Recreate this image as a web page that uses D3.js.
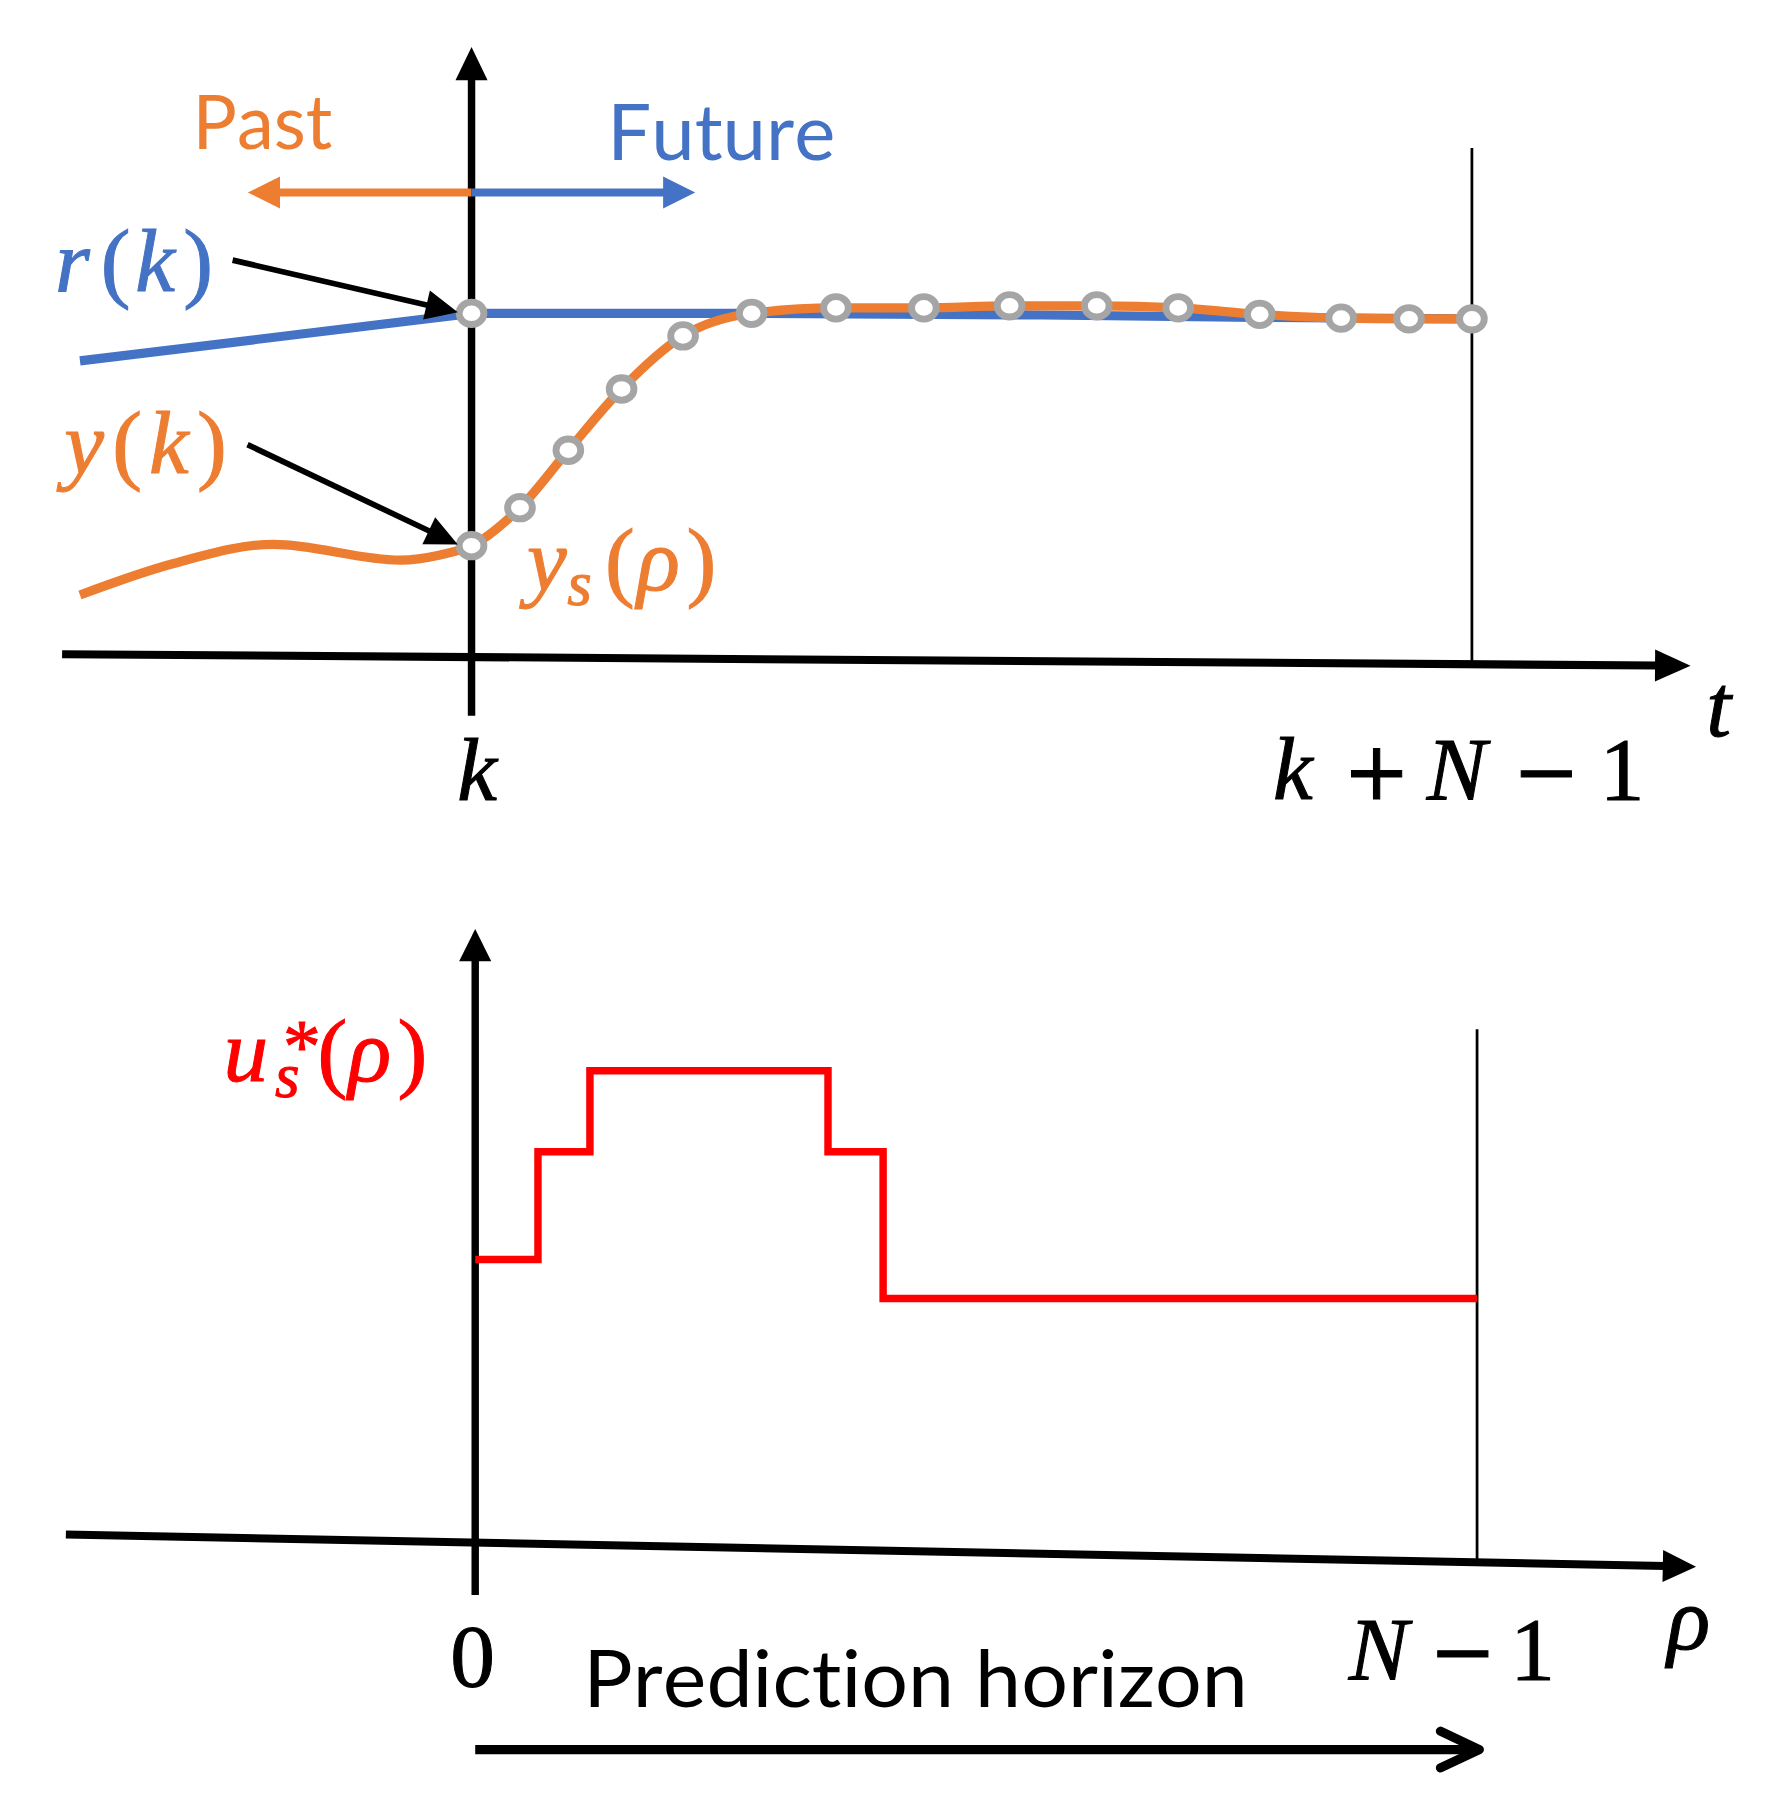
<!DOCTYPE html>
<html>
<head>
<meta charset="utf-8">
<script src="https://cdn.jsdelivr.net/npm/d3@7"></script>
<style>
  body { margin: 0; background: #fff; }
  svg { display: block; }
  text { font-variant-ligatures: none; font-kerning: none; }
</style>
</head>
<body>
<div id="chart"></div>
<script>
// --- data (steps in rho units, N - 1 = 14) ---
var predSteps = [0, 0.678, 1.355, 2.10, 2.96, 3.92, 5.10, 6.33, 7.53, 8.75, 9.89, 11.03, 12.17, 13.12, 14]
var predOutput = [0.321, 0.432, 0.600, 0.779, 0.934, 1.000, 1.016, 1.016, 1.022, 1.022, 1.016, 0.997, 0.986, 0.984, 0.984]
var pastSteps = [-5.48, -4.17, -2.77, -1.00, -0.44]
var pastOutput = [0.177, 0.269, 0.325, 0.279, 0.294]
var refSteps = [-5.48, 0, 3.92, 8, 11, 14]
var refValues = [0.861, 1.0, 1.0, 0.995, 0.988, 0.984]
var inputSteps = [0, 0.877, 1.603, 4.93, 5.70, 14]
var inputValues = [0.599, 0.828, 1.0, 0.828, 0.516, 0.516]

// axis ends (the hand drawn time axes are a bit tilted)
var tAxisSteps = [-5.73, 17.06]
var tAxisValues = [0.004, -0.030]
var rhoAxisSteps = [-5.72, 17.06]
var rhoAxisValues = [0.0146, -0.0536];

(function () {
  var ORANGE = '#ed7d31'
  var BLUE = '#4472c4'
  var GREY = '#a5a5a5'
  var RED = '#ff0000'
  var MATH = '"Liberation Serif", "DejaVu Serif", serif'
  var OPS = '"DejaVu Serif", serif'
  var SANS = 'Lato, "Open Sans", sans-serif'

  var svg = d3.select('#chart').append('svg')
      .attr('width', 1775)
      .attr('height', 1797)
      .attr('viewBox', '0 0 1549 1568')
      .attr('preserveAspectRatio', 'none')

  var xTop = d3.scaleLinear().domain([0, 14]).range([411.5, 1284.5])
  var yTop = d3.scaleLinear().domain([0, 1]).range([572, 273.4])
  var xBot = d3.scaleLinear().domain([0, 14]).range([414.7, 1289])
  var yBot = d3.scaleLinear().domain([0, 1]).range([1345, 934.3])

  function arrow(g, x1, y1, x2, y2, color, width, len, half) {
    var dx = x2 - x1
    var dy = y2 - y1
    var d = Math.sqrt(dx * dx + dy * dy)
    var ux = dx / d
    var uy = dy / d
    var bx = x2 - ux * len
    var by = y2 - uy * len
    g.append('line')
        .attr('x1', x1).attr('y1', y1)
        .attr('x2', bx + ux * 2).attr('y2', by + uy * 2)
        .attr('stroke', color)
        .attr('stroke-width', width)
    g.append('path')
        .attr('d', 'M' + x2 + ',' + y2 +
          'L' + (bx - uy * half) + ',' + (by + ux * half) +
          'L' + (bx + uy * half) + ',' + (by - ux * half) + 'Z')
        .attr('fill', color)
  }

  function axisY(xs, ys, yScale, step) {
    var t = (step - xs[0]) / (xs[1] - xs[0])
    return yScale(ys[0] + t * (ys[1] - ys[0]))
  }

  // math labels in the style of Cambria Math: italic letters, upright parens
  function mathLabel(g, tokens, y, color) {
    var t = g.append('text')
        .attr('fill', color)
        .attr('stroke', color)
        .attr('stroke-width', 0.9)
        .attr('font-family', MATH)
        .attr('font-size', 78)
    tokens.forEach(function (k) {
      t.append('tspan')
          .attr('x', k.x)
          .attr('y', y + (k.dy || 0))
          .attr('font-family', k.op ? OPS : MATH)
          .attr('font-style', k.it ? 'italic' : 'normal')
          .attr('font-size', k.size || 78)
          .text(k.s)
    })
  }

  /* TOP PANEL */
  var gTop = svg.append('g')

  // thin horizon line at k + N - 1
  gTop.append('line')
      .attr('x1', xTop(14)).attr('x2', xTop(14))
      .attr('y1', yTop(1.483))
      .attr('y2', axisY(tAxisSteps, tAxisValues, yTop, 14))
      .attr('stroke', '#000')
      .attr('stroke-width', 2.4)

  // time axis
  arrow(gTop, xTop(tAxisSteps[0]), yTop(tAxisValues[0]), xTop(tAxisSteps[1]), yTop(tAxisValues[1]), '#000', 7, 31, 14)
  // vertical axis at k
  arrow(gTop, xTop(0), yTop(-0.176), xTop(0), yTop(1.778), '#000', 6.5, 29, 14)

  // past / future arrows
  arrow(gTop, xTop(0), yTop(1.353), xTop(-3.13), yTop(1.353), ORANGE, 7, 28, 14)
  arrow(gTop, xTop(0), yTop(1.353), xTop(3.13), yTop(1.353), BLUE, 7, 28, 14)

  gTop.append('text')
      .attr('x', 168).attr('y', 130)
      .attr('font-family', SANS).attr('font-size', 66)
      .attr('textLength', 122).attr('lengthAdjust', 'spacingAndGlyphs')
      .attr('fill', ORANGE)
      .text('Past')
  gTop.append('text')
      .attr('x', 530).attr('y', 140)
      .attr('font-family', SANS).attr('font-size', 68)
      .attr('textLength', 199).attr('lengthAdjust', 'spacingAndGlyphs')
      .attr('fill', BLUE)
      .text('Future')

  // reference r
  var refLine = d3.line()
      .x(function (d, i) { return xTop(refSteps[i]) })
      .y(function (d) { return yTop(d) })
  gTop.append('path')
      .attr('d', refLine(refValues))
      .attr('fill', 'none')
      .attr('stroke', BLUE)
      .attr('stroke-width', 8)

  // output y: past and predicted
  var outSteps = pastSteps.concat(predSteps)
  var outValues = pastOutput.concat(predOutput)
  var outLine = d3.line()
      .x(function (d, i) { return xTop(outSteps[i]) })
      .y(function (d) { return yTop(d) })
      .curve(d3.curveMonotoneX)
  gTop.append('path')
      .attr('d', outLine(outValues))
      .attr('fill', 'none')
      .attr('stroke', ORANGE)
      .attr('stroke-width', 8)

  // prediction samples, plus r(k)
  var dots = predSteps.map(function (s, i) { return [s, predOutput[i]] })
  dots.unshift([0, refValues[1]])
  gTop.selectAll('ellipse.sample')
      .data(dots)
      .enter()
      .append('ellipse')
      .attr('class', 'sample')
      .attr('cx', function (d) { return xTop(d[0]) })
      .attr('cy', function (d) { return yTop(d[1]) })
      .attr('rx', 10.8)
      .attr('ry', 9.8)
      .attr('fill', '#fff')
      .attr('stroke', GREY)
      .attr('stroke-width', 6)

  // annotation arrows
  arrow(gTop, 203, 227, xTop(0) - 12, yTop(refValues[1]) - 1, '#000', 5, 28, 13)
  arrow(gTop, 216, 388, xTop(0) - 12, yTop(predOutput[0]) - 1, '#000', 5, 28, 13)

  mathLabel(gTop, [
    { s: 'r', x: 48, it: true },
    { s: '(', x: 88 },
    { s: 'k', x: 118, it: true },
    { s: ')', x: 160 }
  ], 254, BLUE)
  mathLabel(gTop, [
    { s: 'y', x: 56, it: true },
    { s: '(', x: 98 },
    { s: 'k', x: 130, it: true },
    { s: ')', x: 172 }
  ], 413, ORANGE)
  mathLabel(gTop, [
    { s: 'y', x: 460, it: true },
    { s: 's', x: 495, it: true, size: 55, dy: 13 },
    { s: '(', x: 528 },
    { s: 'ρ', x: 556, it: true },
    { s: ')', x: 599 }
  ], 515, ORANGE)

  mathLabel(gTop, [{ s: 'k', x: 399, it: true }], 698, '#000')
  mathLabel(gTop, [
    { s: 'k', x: 1111, it: true },
    { s: '+', x: 1172, op: true, size: 70 },
    { s: 'N', x: 1245, it: true },
    { s: '−', x: 1320, op: true, size: 70 },
    { s: '1', x: 1396 }
  ], 697, '#000')
  mathLabel(gTop, [{ s: 't', x: 1489, it: true }], 642, '#000')

  /* BOTTOM PANEL */
  var gBot = svg.append('g')

  gBot.append('line')
      .attr('x1', xBot(14)).attr('x2', xBot(14))
      .attr('y1', yBot(1.088))
      .attr('y2', axisY(rhoAxisSteps, rhoAxisValues, yBot, 14))
      .attr('stroke', '#000')
      .attr('stroke-width', 2.4)

  arrow(gBot, xBot(rhoAxisSteps[0]), yBot(rhoAxisValues[0]), xBot(rhoAxisSteps[1]), yBot(rhoAxisValues[1]), '#000', 7, 29, 14)
  arrow(gBot, xBot(0), yBot(-0.114), xBot(0), yBot(1.301), '#000', 6.5, 28, 14)

  var stepLine = d3.line()
      .x(function (d, i) { return xBot(inputSteps[i]) })
      .y(function (d) { return yBot(d) })
      .curve(d3.curveStepAfter)
  gBot.append('path')
      .attr('d', stepLine(inputValues))
      .attr('fill', 'none')
      .attr('stroke', RED)
      .attr('stroke-width', 6.5)

  mathLabel(gBot, [
    { s: 'u', x: 195, it: true },
    { s: '*', x: 247, size: 66, dy: -8 },
    { s: 's', x: 240, it: true, size: 55, dy: 14 },
    { s: '(', x: 277 },
    { s: 'ρ', x: 304, it: true },
    { s: ')', x: 347 }
  ], 943, RED)

  mathLabel(gBot, [{ s: '0', x: 393 }], 1471, '#000')
  mathLabel(gBot, [
    { s: 'N', x: 1177, it: true },
    { s: '−', x: 1247, op: true, size: 70 },
    { s: '1', x: 1318 }
  ], 1465, '#000')
  mathLabel(gBot, [{ s: 'ρ', x: 1455, it: true }], 1439, '#000')

  gBot.append('text')
      .attr('x', 509).attr('y', 1489.6)
      .attr('font-family', SANS).attr('font-size', 70)
      .attr('textLength', 580).attr('lengthAdjust', 'spacingAndGlyphs')
      .attr('fill', '#000')
      .text('Prediction horizon')

  // prediction horizon arrow with open head
  var hy = 1526.6
  gBot.append('line')
      .attr('x1', xBot(0)).attr('y1', hy)
      .attr('x2', xBot(14) + 2).attr('y2', hy)
      .attr('stroke', '#000')
      .attr('stroke-width', 8)
  gBot.append('path')
      .attr('d', 'M' + (xBot(14) - 32) + ',' + (hy - 16) + 'L' + (xBot(14) + 2) + ',' + hy + 'L' + (xBot(14) - 32) + ',' + (hy + 16))
      .attr('fill', 'none')
      .attr('stroke', '#000')
      .attr('stroke-width', 8)
      .attr('stroke-linecap', 'round')
      .attr('stroke-linejoin', 'round')
})()
</script>
</body>
</html>
